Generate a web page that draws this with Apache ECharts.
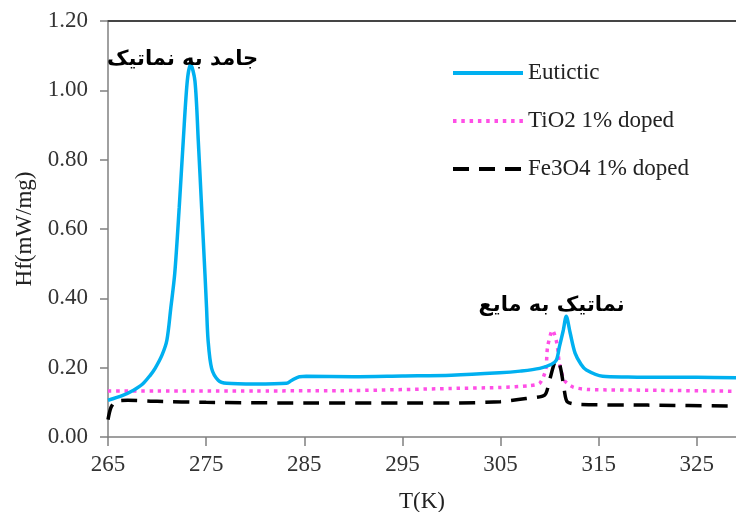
<!DOCTYPE html>
<html>
<head>
    <meta charset="utf-8"/>
    <title>Hf vs T</title>
    <script src="https://cdn.jsdelivr.net/npm/echarts@6/dist/echarts.min.js"></script>
    <style>
        html, body { margin: 0; padding: 0; background: #fff; }
        #main { width: 736px; height: 512px; }
    </style>
</head>
<body>
    <div id="main"></div>
    <script type="text/javascript">
        // data
        var xTicks = [265, 275, 285, 295, 305, 315, 325];

        var eutT = [265.0, 266.5, 267.6, 268.5, 269.3, 269.8, 270.5, 271.0, 271.4, 271.8, 272.26, 272.67, 273.08, 273.42,
            273.86, 274.2, 274.54, 274.88, 275.04, 275.2, 275.56, 276.23, 277.1, 280, 283.2, 283.7, 284.5, 285.2, 290, 295,
            300, 304.9, 307, 309, 310.2, 310.7, 311.0, 311.4, 311.7, 312.1, 312.6, 313.2, 313.75, 315.4, 318,
            321.2, 325, 329];
        var eutV = [0.106, 0.120, 0.135, 0.152, 0.178, 0.198, 0.236, 0.279, 0.372, 0.471, 0.663, 0.855, 1.027, 1.075,
            1.027, 0.855, 0.663, 0.471, 0.375, 0.279, 0.198, 0.164, 0.155, 0.153, 0.155, 0.163, 0.174, 0.175, 0.174, 0.176,
            0.178, 0.185, 0.190, 0.198, 0.210, 0.222, 0.260, 0.308, 0.348, 0.300, 0.242, 0.210, 0.193, 0.175, 0.173,
            0.172, 0.172, 0.171];

        var tioT = [265, 270, 280, 290, 300, 305, 308, 309, 309.6, 309.8, 310.3, 310.75, 311.0, 311.5, 312.4, 314, 320, 329];
        var tioV = [0.133, 0.133, 0.133, 0.134, 0.140, 0.143, 0.148, 0.155, 0.193, 0.260, 0.308, 0.270, 0.213, 0.164, 0.144, 0.137, 0.135, 0.132];

        var feT = [265.0, 265.3, 265.8, 267, 270, 275, 285, 295, 300, 305, 307.6, 309.5, 310, 310.5, 310.85, 311.2, 311.5, 311.8, 313, 320, 329];
        var feV = [0.050, 0.085, 0.103, 0.106, 0.103, 0.100, 0.098, 0.098, 0.098, 0.102, 0.111, 0.121, 0.164, 0.213, 0.222, 0.188, 0.135, 0.102, 0.094, 0.092, 0.089];

        // annotation text and where it sits (data coords)
        var notes = [
            { text: 'جامد به نماتیک', coord: [272.6, 1.09] },
            { text: 'نماتیک به مایع', coord: [310.2, 0.38] }
        ];

        function pairs(xs, ys) {
            return xs.map(function (x, i) { return [x, ys[i]]; });
        }

        var serif = '"Liberation Serif", "Times New Roman", serif';
        var myChart = echarts.init(document.getElementById('main'));

        var option = {
            animation: false,
            backgroundColor: '#fff',
            grid: { left: 108, right: 0, top: 21, bottom: 75, containLabel: false, outerBoundsMode: 'none' },
            legend: {
                orient: 'vertical',
                left: 451,
                top: 61,
                padding: 0,
                itemWidth: 70,
                itemHeight: 14,
                itemGap: 24,
                itemStyle: { color: 'transparent', borderWidth: 0 },
                lineStyle: { width: 4 },
                textStyle: { fontFamily: serif, fontSize: 23, color: '#222', lineHeight: 24 },
                data: ['Eutictic', 'TiO2 1% doped', 'Fe3O4 1% doped']
            },
            xAxis: [{
                type: 'value',
                min: 265,
                max: 329,
                interval: 10,
                name: 'T(K)',
                nameLocation: 'middle',
                nameGap: 53,
                nameTextStyle: { fontFamily: serif, fontSize: 23, color: '#222' },
                splitLine: { show: false },
                axisLine: { lineStyle: { color: '#808080', width: 1.5 } },
                axisTick: { length: 9, customValues: xTicks, lineStyle: { color: '#808080', width: 1.5 } },
                axisLabel: {
                    customValues: xTicks,
                    margin: 16,
                    fontFamily: serif,
                    fontSize: 23,
                    color: '#333'
                }
            }, {
                type: 'value',
                position: 'top',
                min: 265,
                max: 329,
                axisLine: { show: true, lineStyle: { color: '#454545', width: 2 } },
                axisTick: { show: false },
                axisLabel: { show: false },
                splitLine: { show: false }
            }],
            yAxis: {
                type: 'value',
                min: 0,
                max: 1.2,
                interval: 0.2,
                name: 'Hf(mW/mg)',
                nameLocation: 'middle',
                nameGap: 72,
                nameTextStyle: { fontFamily: serif, fontSize: 23, color: '#222' },
                splitLine: { show: false },
                axisLine: { show: true, lineStyle: { color: '#808080', width: 1.5 } },
                axisTick: { show: true, length: 8, lineStyle: { color: '#808080', width: 1.5 } },
                axisLabel: {
                    margin: 20,
                    fontFamily: serif,
                    fontSize: 23,
                    color: '#333',
                    formatter: function (v) { return v.toFixed(2); }
                }
            },
            series: [
                {
                    name: 'Eutictic',
                    type: 'line',
                    data: pairs(eutT, eutV),
                    smooth: 0.3,
                    symbol: 'none',
                    z: 3,
                    itemStyle: { color: '#00b0f0' },
                    lineStyle: { color: '#00b0f0', width: 3.5 },
                    markPoint: {
                        symbol: 'circle',
                        symbolSize: 0,
                        label: {
                            show: true,
                            position: 'inside',
                            fontFamily: '"DejaVu Sans", sans-serif',
                            fontWeight: 'bold',
                            fontSize: 21,
                            color: '#000',
                            formatter: function (p) { return p.name; }
                        },
                        data: notes.map(function (n) { return { name: n.text, coord: n.coord }; })
                    }
                },
                {
                    name: 'TiO2 1% doped',
                    type: 'line',
                    data: pairs(tioT, tioV),
                    smooth: 0.25,
                    symbol: 'none',
                    z: 2,
                    itemStyle: { color: '#ff4fe6' },
                    lineStyle: { color: '#ff4fe6', width: 3.5, type: [3.5, 4.8] }
                },
                {
                    name: 'Fe3O4 1% doped',
                    type: 'line',
                    data: pairs(feT, feV),
                    smooth: 0.25,
                    symbol: 'none',
                    z: 2,
                    itemStyle: { color: '#000' },
                    lineStyle: { color: '#000', width: 3.5, type: [16, 10] }
                }
            ]
        };

        myChart.setOption(option);
    </script>
</body>
</html>
